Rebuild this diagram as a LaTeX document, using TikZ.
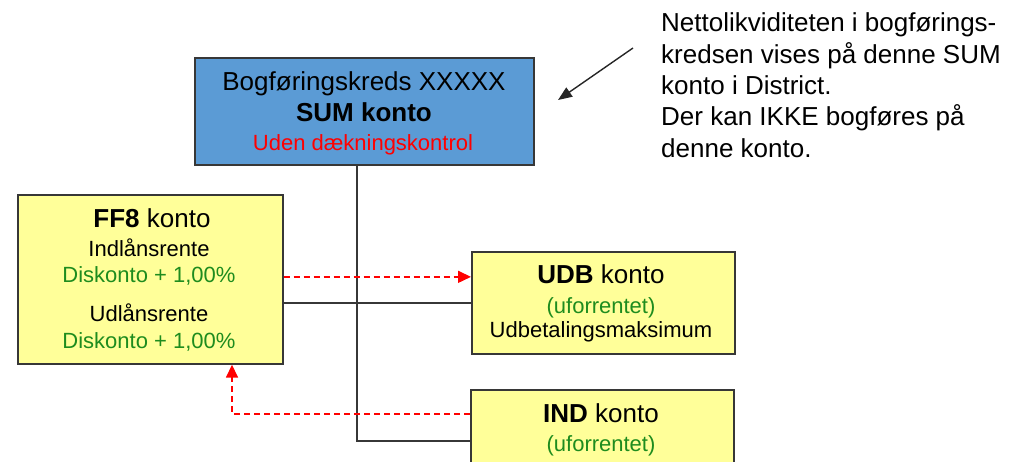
\documentclass[tikz,border=0pt]{standalone}
\usepackage{fontspec}
\setmainfont{Liberation Sans}
\usetikzlibrary{arrows.meta}
\definecolor{sumblue}{RGB}{91,155,213}
\definecolor{boxyellow}{RGB}{255,255,153}
\definecolor{boxline}{RGB}{55,55,55}
\definecolor{txtgreen}{RGB}{30,140,30}
\definecolor{txtred}{RGB}{255,0,0}
\newcommand\fbig{\fontsize{26}{31}\selectfont}
\newcommand\fsmall{\fontsize{22}{26}\selectfont}
\tikzset{
  box/.style={draw=boxline, line width=1.7pt, inner sep=0pt, anchor=north west},
  txt/.style={inner sep=0pt, anchor=base},
  conn/.style={draw=boxline, line width=1.7pt},
  reddash/.style={draw=txtred, line width=1.6pt, dash pattern=on 6pt off 4pt,
    -{Triangle[length=13pt,width=12pt]}},
}
\begin{document}
\begin{tikzpicture}[x=1pt,y=-1pt]
\useasboundingbox (0,0) rectangle (1012,461);
\clip (0,0) rectangle (1012,461);
% boxes
\node[box, fill=sumblue, minimum width=339pt, minimum height=107pt] (sum) at (194,57) {};
\node[box, fill=boxyellow, minimum width=265pt, minimum height=169pt] (ff8) at (17,194) {};
\node[box, fill=boxyellow, minimum width=263pt, minimum height=102pt] (udb) at (471,251) {};
\node[box, fill=boxyellow, minimum width=263pt, minimum height=102pt] (ind) at (470,389) {};
% texts
\node[txt, font=\fbig] (s1) at (364,90) {Bogføringskreds XXXXX};
\node[txt, font=\fbig\bfseries] (s2) at (364,121) {SUM konto};
\node[txt, font=\fsmall, text=txtred] (s3) at (363,150) {Uden dækningskontrol};
\node[txt, font=\fbig] (f1) at (152,227) {\textbf{FF8} konto};
\node[txt, font=\fsmall] (f2) at (149,256) {Indlånsrente};
\node[txt, font=\fsmall, text=txtgreen] (f3) at (149,282) {Diskonto + 1,00\%};
\node[txt, font=\fsmall] (f4) at (149,321) {Udlånsrente};
\node[txt, font=\fsmall, text=txtgreen] (f5) at (149,348) {Diskonto + 1,00\%};
\node[txt, font=\fbig] (u1) at (601,283) {\textbf{UDB} konto};
\node[txt, font=\fsmall, text=txtgreen] (u2) at (601,313) {(uforrentet)};
\node[txt, font=\fsmall] (u3) at (601,337) {Udbetalingsmaksimum};
\node[txt, font=\fbig] (i1) at (601,422) {\textbf{IND} konto};
\node[txt, font=\fsmall, text=txtgreen] (i2) at (601,451) {(uforrentet)};
% annotation (base anchor = baseline of last line)
\node[inner sep=0pt, anchor=base west, align=left, font=\fontsize{26}{31.3}\selectfont] (note) at (661,157)
  {Nettolikviditeten i bogførings-\\kredsen vises på denne SUM\\konto i District.\\Der kan IKKE bogføres på\\denne konto.};
\coordinate (arrs) at (633,48);
\coordinate (arre) at (558,100);
\draw[draw=black!85, line width=1.4pt, -{Triangle[length=14pt,width=11pt]}] (arrs) -- (arre);
% connectors
\coordinate (trunk) at (357,0);
\draw[conn] (sum.south -| trunk) |- (ind.west);
\draw[conn] (ff8.east |- udb.west) -- (udb.west);
\draw[reddash] ([yshift=2.5pt]ff8.east) -- ([yshift=2.5pt]ff8.east -| udb.west);
\draw[reddash] ([yshift=27pt]ind.west) -| ([xshift=215pt]ff8.south west);
\end{tikzpicture}
\end{document}
